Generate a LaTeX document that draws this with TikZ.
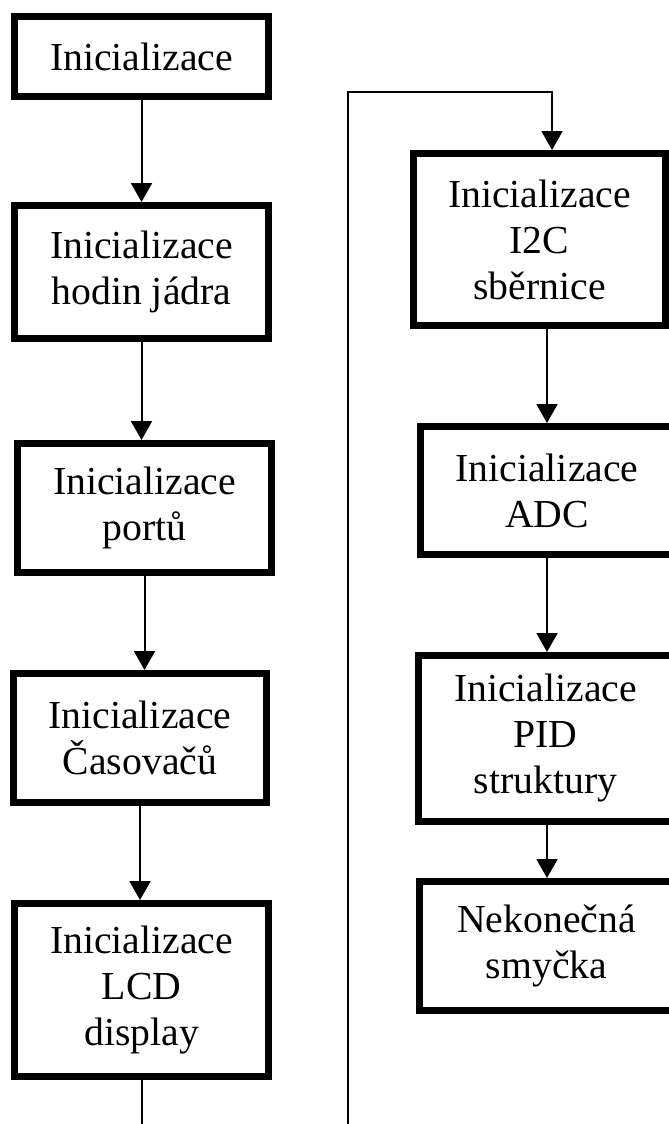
\documentclass[tikz,border=0pt]{standalone}
\usepackage{fontspec}
\setmainfont{Liberation Serif}
\usetikzlibrary{arrows.meta}
\begin{document}
\begin{tikzpicture}[x=1pt,y=-1pt,
  stepbox/.style={draw=black,line width=7pt,rectangle,inner sep=0pt,align=center,
    font=\fontsize{39.7}{46}\selectfont},
  arr/.style={line width=2pt,-{Triangle[width=21pt,length=19pt]}}]
  \useasboundingbox (0,0) rectangle (669,1124);
  \fill[white] (0,0) rectangle (669,1124);
  \clip (0,0) rectangle (669,1124);

  % left column
  \node[stepbox,minimum width=254pt,minimum height=80pt]  (L1) at (141.5,56.5) {Inicializace};
  \node[stepbox,minimum width=254pt,minimum height=133pt] (L2) at (141.5,272) {Inicializace\\hodin jádra};
  \node[stepbox,minimum width=254pt,minimum height=129pt] (L3) at (144.5,508) {Inicializace\\portů};
  \node[stepbox,minimum width=253pt,minimum height=129pt] (L4) at (140,738) {Inicializace\\Časovačů};
  \node[stepbox,minimum width=254pt,minimum height=173pt] (L5) at (141.5,990) {Inicializace\\LCD\\display};

  % right column
  \node[stepbox,minimum width=252pt,minimum height=172pt] (R1) at (539.5,239.5) {Inicializace\\I2C\\sběrnice};
  \node[stepbox,minimum width=254pt,minimum height=128pt] (R2) at (547,490.5) {Inicializace\\ADC};
  \node[stepbox,minimum width=254pt,minimum height=166pt] (R3) at (545.5,738.5) {Inicializace\\PID\\struktury};
  \node[stepbox,minimum width=254pt,minimum height=129pt] (R4) at (546.5,946) {Nekonečná\\smyčka};

  % arrows within the columns
  \draw[arr] (L1.south) -- (L1.south |- L2.north);
  \draw[arr] (L2.south) -- (L2.south |- L3.north);
  \draw[arr] (L3.south) -- (L3.south |- L4.north);
  \draw[arr] (L4.south) -- (L4.south |- L5.north);
  \draw[arr] (R2.north |- R1.south) -- (R2.north);
  \draw[arr] (R2.south) -- (R2.south |- R3.north);
  \draw[arr] (R2.south |- R3.south) -- (R2.south |- R4.north);

  % connector from the left column over to the right one
  \coordinate (b1) at (141.5,1160);
  \coordinate (b2) at (348,1160);
  \coordinate (t1) at (348,92);
  \coordinate (t2) at (552,92);
  \draw[arr] (L5.south) -- (b1) -- (b2) -- (t1) -- (t2) -- (t2 |- R1.north);
\end{tikzpicture}
\end{document}
